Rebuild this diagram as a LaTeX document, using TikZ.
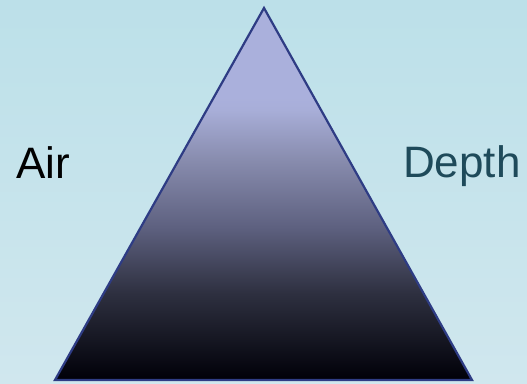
\documentclass[tikz,border=0pt]{standalone}
\usepackage{fontspec}
\setmainfont{Liberation Sans}
\definecolor{bgtop}{HTML}{BCE0E9}
\definecolor{bgbot}{HTML}{D0E7EE}
\definecolor{lav}{HTML}{AAB0DC}
\definecolor{edge}{HTML}{2E3C84}
\definecolor{teal}{HTML}{1E4A5A}
\pgfdeclareverticalshading{depthshade}{100bp}{%
  color(0bp)=(black); color(25bp)=(black!97!blue);
  color(36.7bp)=({rgb,255:red,46;green,48;blue,64});
  color(45.6bp)=({rgb,255:red,94;green,97;blue,128});
  color(54.6bp)=({rgb,255:red,136;green,140;blue,174});
  color(61.3bp)=({rgb,255:red,168;green,174;blue,216});
  color(63bp)=(lav); color(100bp)=(lav)}
\tikzset{
  lbl/.style={font=\fontsize{44}{44}\selectfont, anchor=base west, inner sep=0pt},
}
\begin{document}
\begin{tikzpicture}[x=1pt,y=1pt]
\useasboundingbox (0,0) rectangle (527,383);
\shade[top color=bgtop, bottom color=bgbot] (0,0) rectangle (527,383);
\coordinate (apex) at (264,375);
\coordinate (bl) at (55,3);
\coordinate (br) at (472,3);
\shade[shading=depthshade] (apex) -- (br) -- (bl) -- cycle;
\draw[edge, line width=2.2pt, line join=miter] (apex) -- (br) -- (bl) -- cycle;
\node[lbl, text=black] (air) at (16,204) {Air};
\node[lbl, text=teal] (depth) at (403,205) {Depth};
\end{tikzpicture}
\end{document}
